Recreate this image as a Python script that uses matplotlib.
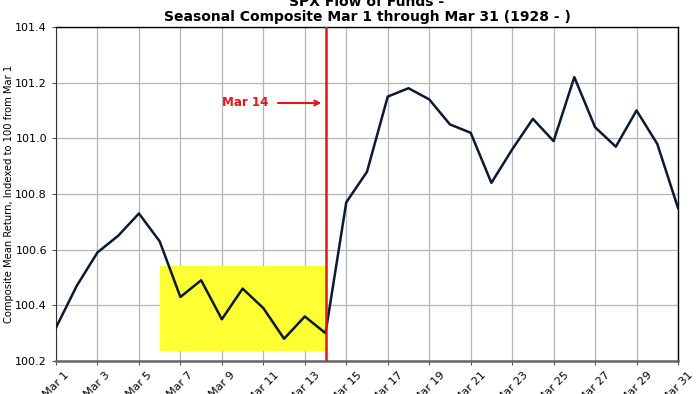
import matplotlib
matplotlib.use("Agg")
import matplotlib.pyplot as plt
import numpy as np

days = list(range(1, 32))
values = [100.32, 100.47, 100.59, 100.65, 100.73, 100.63, 100.43, 100.49, 100.35, 100.46,
          100.39, 100.28, 100.36, 100.30, 100.77, 100.88, 101.15, 101.18, 101.14, 101.05,
          101.02, 100.84, 100.96, 101.07, 100.99, 101.22, 101.04, 100.97, 101.10, 100.98,
          100.75]
tick_days = list(range(1, 32, 2))
tick_labels = [f"Mar {d}" for d in tick_days]
yticks = [100.2, 100.4, 100.6, 100.8, 101.0, 101.2, 101.4]
highlight = (6, 14, 100.235, 100.54)
marker_day = 14

fig = plt.figure(figsize=(7, 3.94), dpi=100)
ax = fig.add_axes([56/700, 33/394, 622/700, 334/394])

ax.add_patch(plt.Rectangle((highlight[0], highlight[2]), highlight[1]-highlight[0],
                           highlight[3]-highlight[2], color="#ffff33", zorder=1, lw=0))
ax.plot(days, values, color="#0b1a30", lw=1.8, zorder=3)
ax.axvline(marker_day, color="#e0161b", lw=1.8, zorder=4)
ax.annotate("Mar 14", xy=(13.8, 101.127), xytext=(9, 101.127),
            color="#e0161b", fontsize=8.6, fontweight="bold", va="center", ha="left",
            arrowprops=dict(arrowstyle="->", color="#e0161b", lw=1.5,
                            shrinkA=5, shrinkB=0))

ax.set_xlim(1, 31)
ax.set_ylim(100.2, 101.4)
ax.set_xticks(tick_days)
ax.set_xticklabels(tick_labels, rotation=45, fontsize=8)
ax.set_yticks(yticks)
ax.set_yticklabels([f"{v:.1f}" for v in yticks], fontsize=8)
ax.grid(True, color="#b5b5b5", lw=0.9, zorder=0)
ax.set_axisbelow(True)
ax.set_ylabel("Composite Mean Return, Indexed to 100 from Mar 1", fontsize=7.2, labelpad=1)
for s in ["top", "right"]:
    ax.spines[s].set_color("black")
    ax.spines[s].set_linewidth(1.0)
ax.spines["left"].set_color("#333333")
ax.spines["bottom"].set_color("#666666")
ax.spines["bottom"].set_linewidth(1.8)
ax.tick_params(axis="both", length=3, color="#555555")
ax.set_title("SPX Flow of Funds -\nSeasonal Composite Mar 1 through Mar 31 (1928 - )",
             fontsize=10, fontweight="bold", pad=4, linespacing=1.1)

fig.savefig("out.png", dpi=100)
